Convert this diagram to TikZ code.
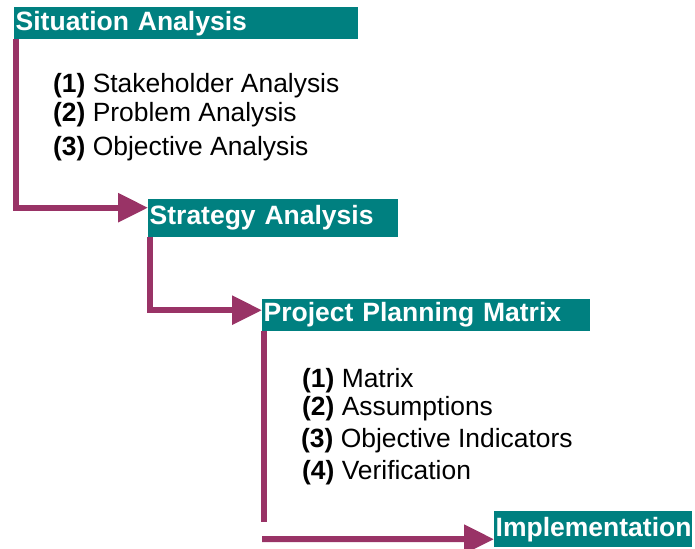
\documentclass[tikz,border=0pt]{standalone}
\usepackage{fontspec}
\setmainfont{Liberation Sans}
\usetikzlibrary{arrows.meta}
\definecolor{headteal}{RGB}{0,128,128}
\definecolor{flowred}{RGB}{153,51,102}
\newcommand{\itm}[2]{\textbf{(#1)} #2}

\begin{document}
\begin{tikzpicture}[
      x=1pt, y=-1pt,
      head/.style={
        fill=headteal, text=white, anchor=north west,
        font=\bfseries\fontsize{26.5}{30}\selectfont,
        inner xsep=1.5pt, inner ysep=0pt, align=left
      },
      item/.style={anchor=base west, inner sep=0pt, font=\fontsize{26.4}{30}\selectfont},
      flow/.style={draw=flowred, line width=6pt,
        -{Triangle[length=30pt, width=28pt]}},
      rest/.style={draw=flowred, line width=6pt}
      ]
      \useasboundingbox (0,0) rectangle (695,548);

      \node[head, text width=341pt, minimum height=32pt] (sit)   at (14,7)    {Situation Analysis};
      \node[head, text width=247pt, minimum height=38pt] (strat) at (148,199) {Strategy Analysis};
      \node[head, text width=325pt, minimum height=32pt] (plan)  at (262,299) {Project Planning Matrix};
      \node[head, text width=195pt, minimum height=36pt] (impl)  at (494,511) {Implementation};

      \node[item] (s1) at (53,93)  {\itm{1}{Stakeholder Analysis}};
      \node[item] (s2) at (53,122) {\itm{2}{Problem Analysis}};
      \node[item] (s3) at (53,156) {\itm{3}{Objective Analysis}};

      \node[item] (p1) at (302,387) {\itm{1}{Matrix}};
      \node[item] (p2) at (302,415) {\itm{2}{Assumptions}};
      \node[item] (p3) at (301,447) {\itm{3}{Objective Indicators}};
      \node[item] (p4) at (302,479) {\itm{4}{Verification}};

      \coordinate (brk) at (263.5,521.5);
      \coordinate (lnk) at (262,539);

  % Connect the nodes
  \draw[flow] ([xshift=1.5pt]sit.south west) |- ([yshift=10.5pt]strat.west);
  \draw[flow] ([xshift=1.7pt]strat.south west) |- ([yshift=5pt]plan.west);
  \draw[rest] ([xshift=1.5pt]plan.south west) -- (brk);
  \draw[flow] (lnk) -- ([yshift=-10pt]impl.west);

\end{tikzpicture}
\end{document}
